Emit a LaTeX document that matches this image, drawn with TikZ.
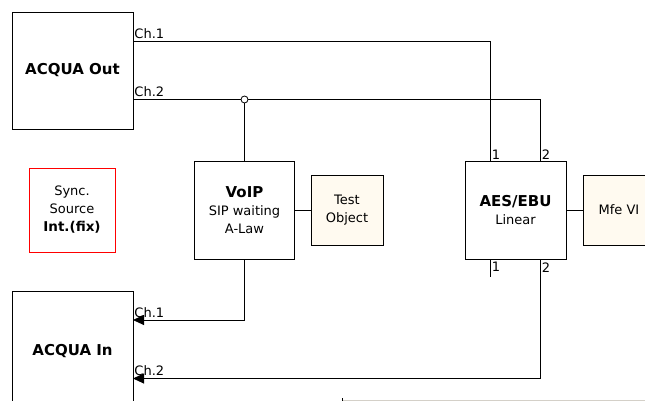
\documentclass[tikz,border=0pt]{standalone}
\usepackage{fontspec}
\setmainfont{DejaVu Sans}
\usetikzlibrary{arrows.meta}
\definecolor{cream}{RGB}{255,250,240}
\definecolor{wingray}{RGB}{212,208,200}
\begin{document}
\begin{tikzpicture}[x=1pt,y=-1pt, line width=0.9pt,
  box/.style={draw, inner sep=0pt, align=center, font=\fontsize{13}{18}\selectfont},
  obj/.style={box, fill=cream},
  bold/.style={font=\bfseries\fontsize{15}{18}\selectfont},
  lbl/.style={inner sep=0pt, font=\fontsize{13}{15}\selectfont},
  arr/.style={-{Triangle[length=11pt,width=10pt]}}]
\useasboundingbox (0,0) rectangle (645,401);
\clip (0,0) rectangle (645,401);

% boxes
\node[box, bold, minimum width=121pt, minimum height=117pt] (aout) at (72.5,70.5) {ACQUA Out};
\node[box, bold, minimum width=121pt, minimum height=120pt] (ain) at (72.5,351) {ACQUA In};
\node[box, draw=red, minimum width=86pt, minimum height=84pt] (sync) at (72,210)
  {Sync.\\Source\\{\bfseries\fontsize{13.5}{18}\selectfont Int.(fix)}};
\node[box, minimum width=100pt, minimum height=98pt] (voip) at (244.5,210)
  {{\bfseries\fontsize{15}{18}\selectfont VoIP}\\SIP waiting\\A-Law};
\node[obj, minimum width=72pt, minimum height=70pt] (test) at (347,210) {Test\\Object};
\node[box, minimum width=101pt, minimum height=98pt] (aes) at (515.5,210)
  {{\bfseries\fontsize{15}{18}\selectfont AES/EBU}\\Linear};
\node[obj, minimum width=72pt, minimum height=70pt] (mfe) at (619,210) {Mfe VI};

% ports
\coordinate (o1) at (133,41);
\coordinate (o2) at (133,99.5);
\coordinate (i1) at (133,320);
\coordinate (i2) at (133,378.5);
\coordinate (a1) at (490,161);
\coordinate (a2) at (540,161);
\coordinate (b1) at (490,259);
\coordinate (b1e) at (490,277);
\coordinate (b2) at (540,259);

% connectors
\draw (o1) -| (a1);
\draw (o2) -| (a2);
\node[draw, circle, fill=white, inner sep=0pt, minimum size=7pt, line width=0.8pt] (j) at (244.5,99.5) {};
\draw (j) -- (voip.north);
\draw[arr] (voip.south) |- (i1);
\draw[arr] (b2) |- (i2);
\draw (b1) -- (b1e);
\draw (voip.east) -- (test.west);
\draw (aes.east) -- (mfe.west);

% labels
\node[lbl, anchor=south west] (l1) at (134,39) {Ch.1};
\node[lbl, anchor=south west] (l2) at (134,97.5) {Ch.2};
\node[lbl, anchor=south west] (l3) at (134,318) {Ch.1};
\node[lbl, anchor=south west] (l4) at (134,376.5) {Ch.2};
\node[lbl, anchor=south west] (p1) at (491.5,159.5) {1};
\node[lbl, anchor=south west] (p2) at (541.5,159.5) {2};
\node[lbl, anchor=north west] (p3) at (491.5,262) {1};
\node[lbl, anchor=north west] (p4) at (541.5,262) {2};

% window edge at bottom
\draw[wingray, line width=1pt] (343,400) -- (645,400);
\draw[black, line width=1pt] (342.5,398) -- (342.5,401);
\end{tikzpicture}
\end{document}
